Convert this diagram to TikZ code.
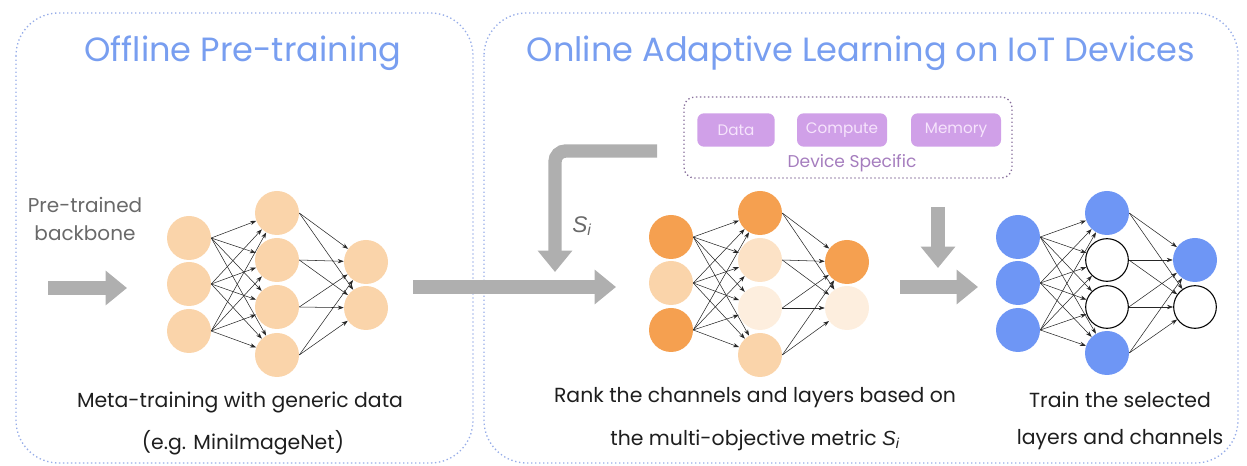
\documentclass[tikz,border=0pt]{standalone}
\usepackage{fontspec}
\setmainfont{Poppins}
\newfontfamily\sifont{Liberation Sans}
\usetikzlibrary{arrows.meta}
\definecolor{peach}{RGB}{250,212,170}
\definecolor{dorange}{RGB}{245,160,80}
\definecolor{lpeach}{RGB}{252,226,198}
\definecolor{vlpeach}{RGB}{253,238,222}
\definecolor{nblue}{RGB}{110,150,245}
\definecolor{titleblue}{RGB}{120,158,240}
\definecolor{panelblue}{RGB}{150,172,232}
\definecolor{arrowgray}{RGB}{175,175,175}
\definecolor{pfill}{RGB}{208,160,232}
\definecolor{ptext}{RGB}{246,228,252}
\definecolor{pdark}{RGB}{165,125,190}
\definecolor{pborder}{RGB}{135,110,155}
\definecolor{bodytext}{RGB}{30,30,30}
\definecolor{graytext}{RGB}{105,105,105}
\begin{document}
\begin{tikzpicture}[x=0.75pt,y=-0.75pt,
  neuron/.style={circle,minimum size=33pt,inner sep=0pt,draw=none},
  wneuron/.style={circle,minimum size=32pt,inner sep=0pt,draw=black,line width=0.8pt,fill=white},
  conn/.style={-{Stealth[length=4.5pt,width=3.2pt]},line width=0.4pt,black!85},
  bigarrow/.style={line width=10pt,draw=arrowgray,-{Triangle[length=16pt,width=25pt]}},
  panel/.style={draw=panelblue,dotted,line width=1pt,rounded corners=32pt},
  title/.style={font=\fontsize{25.2}{29}\selectfont,text=titleblue},
  body/.style={font=\fontsize{15.3}{18}\selectfont,text=bodytext},
  pbox/.style={fill=pfill,rounded corners=5pt,minimum height=25pt,text=ptext,font=\fontsize{11.4}{13}\selectfont}
]
\useasboundingbox (0,0) rectangle (1247,466);
% panels
\draw[panel] (16,13) rectangle (473,463);
\draw[panel] (484,13) rectangle (1238,463);
\node[title] (t1) at (243,53) {Offline Pre-training};
\node[title] (t2) at (861,53) {Online Adaptive Learning on IoT Devices};

% pre-trained label
\node[font=\fontsize{15}{18}\selectfont,text=graytext,align=center] (pt) at (85,219) {Pre-trained\\[3pt]backbone};

% network 1
\foreach \n/\y in {1/238,2/284,3/331} \node[neuron,fill=peach] (a\n) at (189,\y) {};
\foreach \n/\y in {1/213,2/260,3/307,4/355} \node[neuron,fill=peach] (b\n) at (277,\y) {};
\foreach \n/\y in {1/262,2/308} \node[neuron,fill=peach] (c\n) at (366,\y) {};
\foreach \i in {1,2,3} \foreach \j in {1,...,4} \draw[conn] (a\i.east) -- (b\j);
\foreach \j in {1,...,4} \foreach \k in {1,2} \draw[conn] (b\j.east) -- (c\k);
\node[body] (m1) at (240,402) {Meta-training with generic data};
\node[body] (m2) at (243,443) {(e.g. MiniImageNet)};

% network 2
\node[neuron,fill=dorange] (p1) at (671,237) {};
\node[neuron,fill=peach] (p2) at (671,283) {};
\node[neuron,fill=dorange] (p3) at (671,330) {};
\node[neuron,fill=dorange] (q1) at (760,213) {};
\node[neuron,fill=lpeach] (q2) at (760,260) {};
\node[neuron,fill=vlpeach] (q3) at (760,308) {};
\node[neuron,fill=peach] (q4) at (760,355) {};
\node[neuron,fill=dorange] (r1) at (847,262) {};
\node[neuron,fill=vlpeach] (r2) at (847,308) {};
\foreach \i in {1,2,3} \foreach \j in {1,...,4} \draw[conn] (p\i.east) -- (q\j);
\foreach \j in {1,...,4} \foreach \k in {1,2} \draw[conn] (q\j.east) -- (r\k);
\node[body] (m3) at (755,398) {Rank the channels and layers based on};
\node[body] (m4) at (755,440) {the multi-objective metric {\sifont\itshape S\textsubscript{i}}};

% network 3
\foreach \n/\y in {1/237,2/283,3/330} \node[neuron,fill=nblue] (u\n) at (1018,\y) {};
\node[neuron,fill=nblue] (v1) at (1107,213) {};
\node[wneuron] (v2) at (1107,260) {};
\node[wneuron] (v3) at (1107,307) {};
\node[neuron,fill=nblue] (v4) at (1107,353) {};
\node[neuron,fill=nblue] (w1) at (1195,260) {};
\node[wneuron] (w2) at (1195,307) {};
\foreach \i in {1,2,3} \foreach \j in {1,...,4} \draw[conn] (u\i.east) -- (v\j);
\foreach \j in {1,...,4} \foreach \k in {1,2} \draw[conn] (v\j.east) -- (w\k);
\node[body] (m5) at (1120,400) {Train the selected};
\node[body] (m6) at (1120,440) {layers and channels};

% device specific box
\draw[draw=pborder,dotted,line width=1pt,rounded corners=8pt] (684,97) rectangle (1012,178);
\node[pbox,minimum width=58pt] (data) at (736,130) {Data};
\node[pbox,minimum width=67.5pt] (comp) at (842,130) {Compute};
\node[pbox,minimum width=67.5pt] (mem) at (956,130) {Memory};
\node[text=pdark,font=\fontsize{12.8}{15}\selectfont] (dev) at (852,163) {Device Specific};

% big gray arrows
\coordinate (s1) at (48,288); \coordinate (e1) at (127,288);
\draw[bigarrow] (s1) -- (e1);
\coordinate (s2) at (413,287); \coordinate (e2) at (616,287);
\draw[bigarrow] (s2) -- (e2);
\coordinate (s3) at (657,151); \coordinate (e3) at (555,272);
\draw[bigarrow,rounded corners=8pt] (s3) -| (e3);
\node[font=\sifont\itshape\fontsize{17}{20}\selectfont,text=graytext] (si) at (582,226) {S\textsubscript{i}};
\coordinate (s4) at (938,207); \coordinate (e4) at (938,268);
\draw[bigarrow] (s4) -- (e4);
\coordinate (s5) at (900,287); \coordinate (e5) at (978,287);
\draw[bigarrow] (s5) -- (e5);
\end{tikzpicture}
\end{document}
